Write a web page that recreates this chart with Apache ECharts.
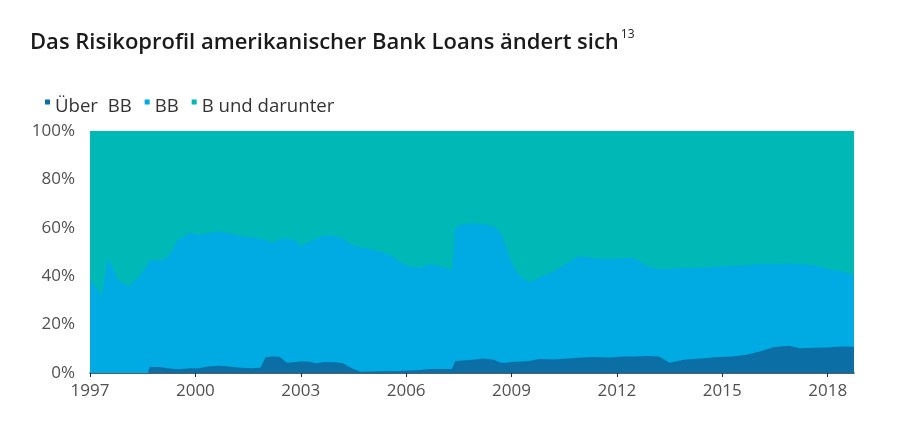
<!DOCTYPE html>
<html>
<head>
<meta charset="utf-8">
<script src="https://cdn.jsdelivr.net/npm/echarts@6/dist/echarts.min.js"></script>
<style>html,body{margin:0;padding:0;background:#fff;}#c{width:900px;height:433px;}</style>
</head>
<body>
<div id="c"></div>
<script>
// decimal year of each reading
var dates = [1997.00,1997.20,1997.33,1997.50,1997.60,1997.80,1998.10,1998.40,1998.65,1998.70,
  1999.00,1999.20,1999.50,1999.85,2000.10,2000.40,2000.70,2001.00,2001.30,2001.60,
  2001.85,2002.00,2002.20,2002.40,2002.60,2002.85,2003.00,2003.20,2003.45,2003.70,
  2004.00,2004.20,2004.45,2004.70,2005.00,2005.30,2005.60,2005.85,2006.10,2006.40,
  2006.70,2007.00,2007.30,2007.40,2007.60,2007.90,2008.20,2008.50,2008.70,2008.85,
  2009.00,2009.25,2009.50,2009.80,2010.20,2010.60,2010.90,2011.30,2011.80,2012.20,
  2012.50,2012.85,2013.20,2013.50,2013.90,2014.40,2014.90,2015.30,2015.70,2016.10,
  2016.45,2016.90,2017.20,2017.60,2018.00,2018.40,2018.75];
var ueberBB = [0,0,0,0,0,0,0,0,0,2.5,
  2.5,2,1.5,2,2,2.8,3,2.6,2.2,2,
  2.2,6.5,6.8,6.7,4.2,4.5,4.8,4.8,4,4.5,
  4.4,4,2,0.5,0.6,0.7,0.7,0.8,1,1.2,
  1.7,1.7,1.7,5,5.2,5.5,6,5.5,4.2,4.2,
  4.5,4.8,5,5.8,5.6,6,6.3,6.6,6.4,6.8,
  6.8,7,6.8,4.2,5.5,6,6.6,6.8,7.5,9,
  10.6,11.3,10.2,10.4,10.5,11,10.8];
var bb = [38.5,35,31.5,46.7,45,38.4,35.7,39.8,45,44.2,
  44,45.5,53.5,56,55,55.2,55.5,54.9,54.3,54,
  53.3,48.5,47,48.8,51.3,50.5,47.4,49.2,51.5,52.5,
  52.1,51.5,51,51.5,50.4,49.3,47.8,44.7,43,42.3,
  43.3,42.3,40.8,55,56.3,56.5,55.5,55,53.8,47.8,
  41,35.2,32.5,33.7,36.4,39.5,41.9,40.9,40.6,40.7,
  40.7,37,36.2,38.8,38,37.5,37.4,37.4,37,36,
  34.4,33.9,34.8,34.1,32.5,31,29.7];
var bUndDarunter = [61.5,65,68.5,53.3,55,61.6,64.3,60.2,55,53.3,
  53.5,52.5,45,42,43,42,41.5,42.5,43.5,44,
  44.5,45,46.2,44.5,44.5,45,47.8,46,44.5,43,
  43.5,44.5,47,48,49,50,51.5,54.5,56,56.5,
  55,56,57.5,40,38.5,38,38.5,39.5,42,48,
  54.5,60,62.5,60.5,58,54.5,51.8,52.5,53,52.5,
  52.5,56,57,57,56.5,56.5,56,55.8,55.5,55,
  55,54.8,55,55.5,57,58,59.5];
var seriesNames = ['Über  BB', 'BB', 'B und darunter'];
var yearTicks = [1997, 2000, 2003, 2006, 2009, 2012, 2015, 2018];
var titleText = 'Das Risikoprofil amerikanischer Bank Loans ändert sich';
var titleNote = '13';

var colors = ['#0b6fa6', '#00aae2', '#00b8b5'];
var FONT = 'Open Sans';
// cumulative tops, so each band is drawn over the one above it
var layers = [ueberBB, bb, bUndDarunter];
function cumulative(k) {
  return dates.map(function (d, i) {
    var s = 0;
    for (var j = 0; j <= k; j++) s += layers[j][i];
    return [d, Math.min(100, Math.round(s * 100) / 100)];
  });
}
function mk(k) {
  return {
    name: seriesNames[k], type: 'line', data: cumulative(k),
    showSymbol: false, symbol: 'none', smooth: false,
    lineStyle: { width: 0 },
    areaStyle: { color: colors[k], opacity: 1, origin: 'start' },
    itemStyle: { color: colors[k] },
    emphasis: { disabled: true }
  };
}
var chart = echarts.init(document.getElementById('c'));
chart.setOption({
  animation: false,
  textStyle: { fontFamily: FONT },
  title: {
    text: '{a|' + titleText + '}{s|' + titleNote + '}',
    left: 30, top: 29, padding: 0,
    textStyle: {
      rich: {
        a: { fontFamily: FONT, fontSize: 22, fontWeight: 600, color: '#1a1a1a', lineHeight: 28 },
        s: { fontFamily: FONT, fontSize: 12, fontWeight: 400, color: '#1a1a1a', verticalAlign: 'top', lineHeight: 28, padding: [0, 0, 12, 2] }
      }
    }
  },
  legend: {
    left: 40, top: 92,
    itemWidth: 5, itemHeight: 14, itemGap: 13,
    icon: 'path://M0,0H5V5H0Z M0,14H0.01',
    textStyle: { fontFamily: FONT, fontSize: 18.6, color: '#333' },
    data: seriesNames
  },
  grid: { left: 90, right: 46, top: 131, bottom: 60, containLabel: false },
  xAxis: {
    type: 'value', min: 1997, max: 2018.75, interval: 3,
    axisLine: { show: true, lineStyle: { color: '#1f2a36', width: 1.5 } },
    axisTick: { show: true, length: 4, inside: false, lineStyle: { color: '#1f2a36' }, customValues: yearTicks },
    axisLabel: { fontFamily: FONT, fontSize: 17, color: '#505050', margin: 10, customValues: yearTicks,
      formatter: function (v) { return String(Math.round(v)); } },
    splitLine: { show: false }
  },
  yAxis: {
    type: 'value', min: 0, max: 100, interval: 20,
    axisLine: { show: false }, axisTick: { show: false },
    axisLabel: { fontFamily: FONT, fontSize: 17, color: '#505050', margin: 15,
      formatter: function (v) { return v + '%'; } },
    splitLine: { show: false }
  },
  series: [mk(2), mk(1), mk(0)]
});
</script>
</body>
</html>
